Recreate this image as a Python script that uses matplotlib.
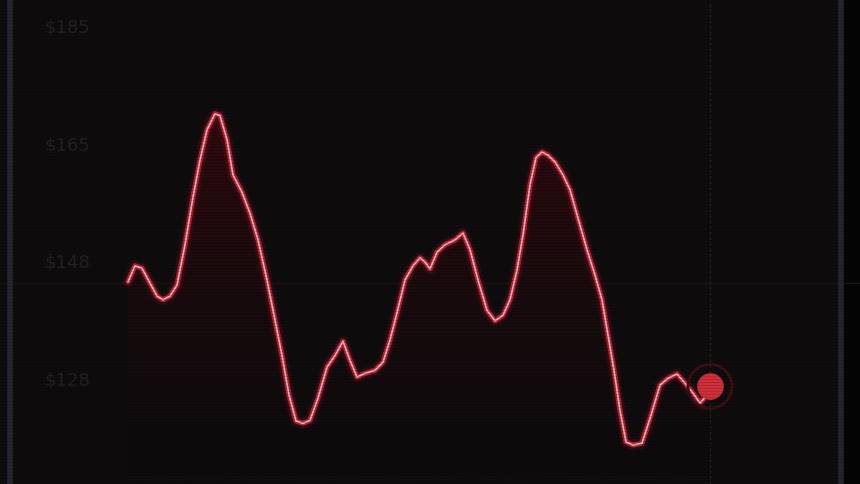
import numpy as np
import matplotlib.pyplot as plt
from matplotlib.patches import Polygon
from matplotlib.colors import LinearSegmentedColormap
import matplotlib.transforms as mtransforms

# time steps (arbitrary units) and price readings
t = [0, 7, 14, 22, 29, 35, 42, 49, 57, 65, 72, 79, 87, 92, 99, 105, 114, 122,
     130, 139, 147, 154, 161, 168, 175, 182, 190, 199, 207, 215, 222, 229, 237,
     247, 255, 262, 269, 277, 285, 292, 297, 302, 309, 317, 327, 335, 342, 350,
     359, 367, 375, 382, 389, 395, 402, 408, 414, 420, 427, 435, 442, 450, 459,
     467, 474, 480, 486, 492, 498, 505, 514, 522, 532, 540, 549, 557, 565, 572,
     577, 582]
price = [143.9, 146.5, 146.1, 143.7, 141.6, 141.0, 141.6, 143.4, 149.9, 157.6,
         163.6, 168.5, 171.1, 170.8, 166.9, 161.2, 158.4, 155.0, 150.7, 144.2,
         137.7, 132.0, 125.6, 121.4, 121.0, 121.5, 125.1, 130.1, 132.0, 134.3,
         131.2, 128.5, 129.1, 129.6, 130.9, 134.5, 138.9, 144.2, 146.5, 147.8,
         147.1, 146.0, 148.7, 149.9, 150.7, 151.8, 149.1, 144.2, 139.3, 137.6,
         138.5, 141.0, 145.8, 151.5, 159.6, 164.0, 164.9, 164.4, 163.3, 161.2,
         158.8, 154.2, 149.1, 145.0, 141.0, 135.3, 129.6, 123.1, 118.0, 117.5,
         117.8, 121.8, 127.2, 128.3, 129.0, 127.5, 125.9, 124.3, 125.2, 127.0]

tick_values = [128, 147, 166, 185]
tick_labels = ['$128', '$148', '$165', '$185']

BG = '#0e0c0d'
RED = '#c4202e'

fig = plt.figure(figsize=(8.6, 4.84), dpi=100, facecolor=BG)
ax = fig.add_axes([0, 0, 1, 1])
ax.set_facecolor(BG)
ax.set_xlim(-128, 732)
ax.set_ylim(111.2, 189.5)
ax.axis('off')

# gradient fill under the line
grad = np.linspace(0, 1, 256).reshape(-1, 1) ** 1.5
cmap = LinearSegmentedColormap.from_list('g', [BG, '#2e0a0e'])
img = ax.imshow(grad, extent=[t[0], t[-1], 111.2, max(price)], origin='lower',
                cmap=cmap, aspect='auto', zorder=1)
poly = Polygon(list(zip(t, price)) + [(t[-1], 111.2), (t[0], 111.2)],
               closed=True, facecolor='none', edgecolor='none')
ax.add_patch(poly)
img.set_clip_path(poly)

# faint grid / crosshair
ax.axhline(143.7, color='#221618', lw=0.8, zorder=0.5)
ax.axvline(t[-1], color='#242428', lw=1, ls=(0, (2, 2)), zorder=0.5)

# screen edges
ax.axvline(-118, color='#26262e', lw=4, zorder=0.5)
ax.axvline(713, color='#26262e', lw=4, zorder=0.5)
ax.axvspan(716, 732, color='#060505', zorder=0.4)

# glowing line
kw = dict(solid_capstyle='round', solid_joinstyle='round')
ax.plot(t, price, color=RED, lw=8, alpha=0.12, zorder=2, **kw)
ax.plot(t, price, color=RED, lw=3.8, alpha=0.9, zorder=3, **kw)
ax.plot(t, price, color='#e2b4c8', lw=1.2, zorder=4, **kw)

# end marker
ax.scatter([t[-1]], [price[-1]], s=1000, facecolor='none', edgecolor='#3e0e12',
           lw=2, zorder=5)
ax.scatter([t[-1]], [price[-1]], s=330, color='#d02e38', zorder=6)

# y labels
trans = mtransforms.blended_transform_factory(ax.transAxes, ax.transData)
for v, lab in zip(tick_values, tick_labels):
    ax.text(0.052, v, lab, transform=trans, ha='left', va='center',
            fontsize=13, color='#222226', zorder=6)

# scanlines
for yy in np.arange(111.2, 189.5, 0.5):
    ax.axhline(yy, color='black', lw=0.4, alpha=0.25, zorder=7)

fig.savefig('out.png', dpi=100, facecolor=BG)
